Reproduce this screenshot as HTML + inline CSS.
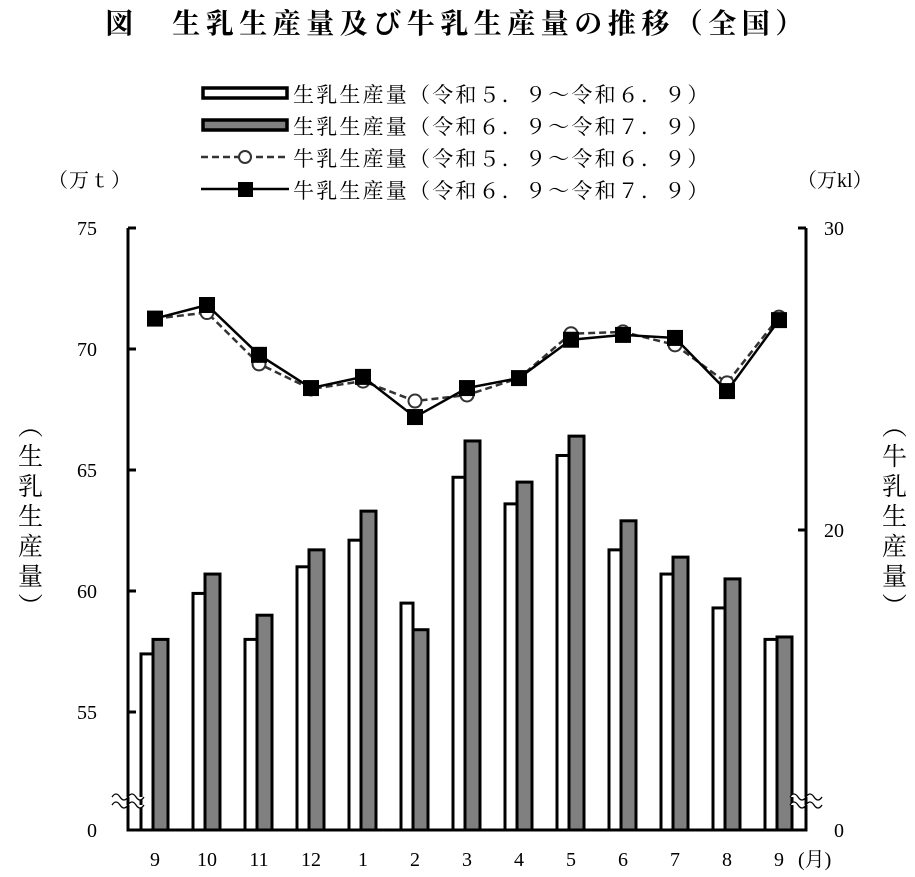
<!DOCTYPE html>
<html><head><meta charset="utf-8"><style>
body{margin:0;background:#fff;}
svg text{font-family:"Liberation Serif","Noto Serif CJK SC",serif;fill:#000;}
</style></head><body>
<svg width="915" height="872" xmlns="http://www.w3.org/2000/svg" id="chart">
<text x="457" y="33" font-size="28" letter-spacing="5.5" text-anchor="middle" font-weight="bold">図　生乳生産量及び牛乳生産量の推移（全国）</text>
<g id="legend">
  <rect x="203" y="88" width="84" height="10" fill="#fff" stroke="#000" stroke-width="3.5"/>
  <text x="293" y="102" font-size="21" letter-spacing="2.2">生乳生産量（令和５．９～令和６．９）</text>
  <rect x="203" y="120" width="84" height="10" fill="#808080" stroke="#000" stroke-width="3.5"/>
  <text x="293" y="134" font-size="21" letter-spacing="2.2">生乳生産量（令和６．９～令和７．９）</text>
  <line x1="201" y1="157" x2="289" y2="157" stroke="#333" stroke-width="2.5" stroke-dasharray="7,4"/>
  <circle cx="245" cy="157" r="6" fill="#fff" stroke="#333" stroke-width="2"/>
  <text x="293" y="166" font-size="21" letter-spacing="2.2">牛乳生産量（令和５．９～令和６．９）</text>
  <line x1="201" y1="189" x2="289" y2="189" stroke="#000" stroke-width="2.5"/>
  <rect x="238" y="182" width="15" height="15" fill="#000"/>
  <text x="293" y="198" font-size="21" letter-spacing="2.2">牛乳生産量（令和６．９～令和７．９）</text>
</g>
<text x="48" y="187" font-size="20" letter-spacing="1">（万ｔ）</text>
<text x="797" y="187" font-size="20">（万kl）</text>
<text x="28" y="413" font-size="25" style="writing-mode:vertical-rl" letter-spacing="5">（生乳生産量）</text>
<text x="892" y="413" font-size="25" style="writing-mode:vertical-rl" letter-spacing="5">（牛乳生産量）</text>
<g id="plot"></g>
</svg>
<script>
const categories=["9","10","11","12","1","2","3","4","5","6","7","8","9"];
const rawPrev=[57.4,59.9,58.0,61.0,62.1,59.5,64.7,63.6,65.6,61.7,60.7,59.3,58.0];
const rawCurr=[58.0,60.7,59.0,61.7,63.3,58.4,66.2,64.5,66.4,62.9,61.4,60.5,58.1];
const milkPrev=[27.0,27.2,25.5,24.67,24.93,24.27,24.47,25.03,26.5,26.56,26.13,24.87,27.05];
const milkCurr=[27.0,27.45,25.8,24.7,25.07,23.74,24.7,25.03,26.3,26.46,26.36,24.6,26.95];
const leftTicks=[55,60,65,70,75];
const rightTicks=[20,30];
const NS="http://www.w3.org/2000/svg";
const g=document.getElementById('plot');
function mk(t,a){const e=document.createElementNS(NS,t);for(const k in a)e.setAttribute(k,a[k]);g.appendChild(e);return e;}
const X0=128,X1=806,YB=830;
function xPos(i){return 155+i*52;}
function yL(v){return 712-(v-55)*24.2;}
function yR(v){return 530-(v-20)*30.2;}
categories.forEach((c,i)=>{
  const cx=xPos(i);
  let r=mk('rect',{x:cx-14,y:yL(rawPrev[i]),width:12,height:YB-yL(rawPrev[i]),fill:'#fff',stroke:'#000','stroke-width':3});
  
  
  let r2=mk('rect',{x:cx-2,y:yL(rawCurr[i]),width:15,height:YB-yL(rawCurr[i]),fill:'#808080',stroke:'#000','stroke-width':3});
  
  
  let t=mk('text',{x:cx,y:866,'font-size':20,'text-anchor':'middle'});t.textContent=c;
  
  
});
let xu=mk('text',{x:798,y:866,'font-size':20});xu.textContent='(月)';


let ax=mk('path',{d:`M${X0},228 V${YB} H${X1} V228`,fill:'none',stroke:'#000','stroke-width':3});


leftTicks.forEach(v=>{
  let l=mk('line',{x1:X0,x2:X0+8,y1:yL(v),y2:yL(v),stroke:'#000','stroke-width':3});
  
  
  let t=mk('text',{x:97,y:yL(v)+7,'font-size':20,'text-anchor':'end'});t.textContent=v;
  
  
});
let z=mk('text',{x:97,y:837,'font-size':20,'text-anchor':'end'});z.textContent='0';


rightTicks.forEach(v=>{
  let l=mk('line',{x1:X1-8,x2:X1,y1:yR(v),y2:yR(v),stroke:'#000','stroke-width':3});
  
  
  let t=mk('text',{x:824,y:yR(v)+7,'font-size':20});t.textContent=v;
  
  
});
let rz=mk('text',{x:834,y:837,'font-size':20});rz.textContent='0';


[X0,X1].forEach(bx=>{
  let w=mk('path',{d:`M${bx-16},797 q4,-6 8,0 t8,0 t8,0 t8,0 M${bx-16},805 q4,-6 8,0 t8,0 t8,0 t8,0`,fill:'#fff',stroke:'#000','stroke-width':1.3});
  
  
});
function line(vals,dash,name){
  const d=vals.map((v,i)=>(i?'L':'M')+xPos(i)+','+yR(v)).join(' ');
  const a={d:d,fill:'none',stroke:dash?'#333':'#000','stroke-width':2.5};
  if(dash)a['stroke-dasharray']='7,4';
  let p=mk('path',a);
  
  
}
line(milkPrev,true,'line-milk-prev');
milkPrev.forEach((v,i)=>{
  let c=mk('circle',{cx:xPos(i),cy:yR(v),r:6.5,fill:'#fff',stroke:'#333','stroke-width':2});
  
  
});
line(milkCurr,false,'line-milk-curr');
milkCurr.forEach((v,i)=>{
  let s=mk('rect',{x:xPos(i)-8,y:yR(v)-8,width:16,height:16,fill:'#000'});
  
  
});
</script>
</body></html>
